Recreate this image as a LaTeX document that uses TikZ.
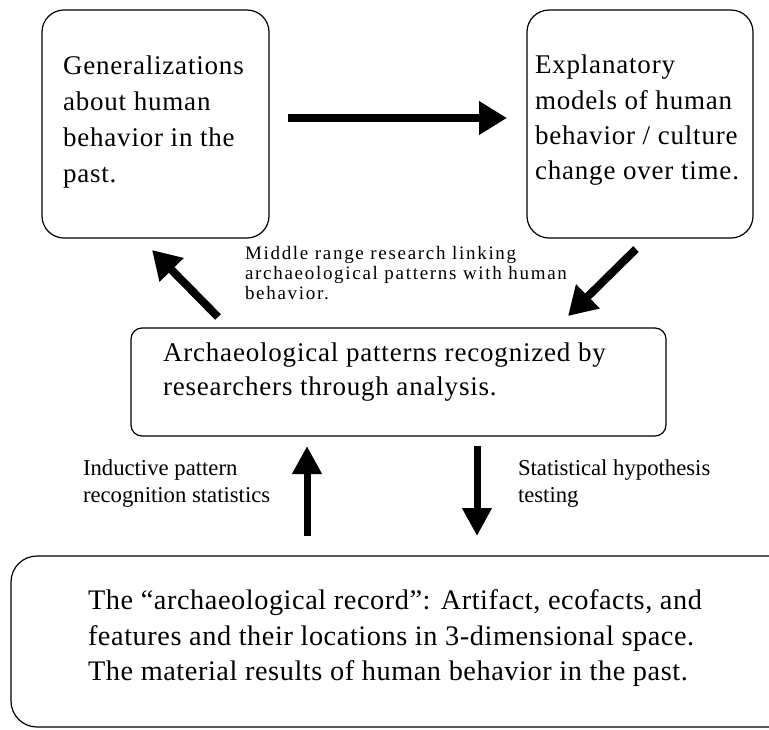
\documentclass[tikz,border=0pt]{standalone}
\usepackage{fontspec}
\setmainfont{Liberation Serif}
\newfontfamily\bigfont[LetterSpace=3]{Liberation Serif}
\newfontfamily\botfont[LetterSpace=2]{Liberation Serif}
\newfontfamily\midlabfont[LetterSpace=9]{Liberation Serif}
\newfontfamily\labfont{Liberation Serif}
\usetikzlibrary{arrows.meta}
\begin{document}
\begin{tikzpicture}[x=1pt,y=-1pt,
  box/.style={draw=black, line width=1.2pt, rounded corners=#1, inner sep=0pt, minimum width=0pt},
  line/.style={anchor=base west, inner sep=0pt, outer sep=0pt},
  bigtxt/.style={line, font=\bigfont\fontsize{27}{32}\selectfont},
  bottxt/.style={line, font=\botfont\fontsize{28.3}{34}\selectfont},
  labtxt/.style={line, font=\labfont\fontsize{22.7}{26}\selectfont},
  mlabtxt/.style={line, font=\midlabfont\fontsize{19}{20}\selectfont},
  arr/.style={line width=8pt, -{Triangle[length=28pt,width=32pt]}},
  varr/.style={line width=7pt, -{Triangle[length=28pt,width=28pt]}}
]
\useasboundingbox (0,0) rectangle (769,729);
\fill[white] (0,0) rectangle (769,729);
\clip (0,0) rectangle (769,729);

% boxes
\node[box=22pt, minimum width=227pt, minimum height=228pt] (gen) at (155.5,124) {};
\node[box=22pt, minimum width=226pt, minimum height=228pt] (expl) at (640,124) {};
\node[box=11pt, minimum width=535pt, minimum height=108pt] (pat) at (398.5,382) {};
\node[box=26pt, minimum width=790pt, minimum height=171pt] (rec) at (406,641.5) {};

% box texts
\node[bigtxt] (g1) at (63,74) {Generalizations};
\node[bigtxt] (g2) at (63,110) {about human};
\node[bigtxt] (g3) at (63,146) {behavior in the};
\node[bigtxt] (g4) at (63,182) {past.};

\node[bigtxt] (e1) at (535,73) {Explanatory};
\node[bigtxt] (e2) at (535,109) {models of human};
\node[bigtxt] (e3) at (535,144) {behavior / culture};
\node[bigtxt] (e4) at (535,179) {change over time.};

\node[bigtxt] (p1) at (163,361) {Archaeological patterns recognized by};
\node[bigtxt] (p2) at (163,395) {researchers through analysis.};

\node[bottxt] (r1) at (88,609) {The \char"201C archaeological record\char"201D: Artifact, ecofacts, and};
\node[bottxt] (r2) at (88,645) {features and their locations in 3-dimensional space.};
\node[bottxt] (r3) at (88,680) {The material results of human behavior in the past.};

% labels
\node[mlabtxt] (m1) at (245,259) {Middle range research linking};
\node[mlabtxt] (m2) at (245,279) {archaeological patterns with human};
\node[mlabtxt] (m3) at (245,299) {behavior.};

\node[labtxt] (i1) at (83,475) {Inductive pattern};
\node[labtxt] (i2) at (83,502) {recognition statistics};

\node[labtxt] (s1) at (518,475) {Statistical hypothesis};
\node[labtxt] (s2) at (518,502) {testing};

% arrow end points
\coordinate (h1) at (288,118);
\coordinate (h2) at (507,118);
\coordinate (ul1) at (218,317);
\coordinate (ul2) at (152,250);
\coordinate (dl1) at (636,249);
\coordinate (dl2) at (568,316);
\coordinate (up1) at (307,536);
\coordinate (up2) at (307,446);
\coordinate (dn1) at (477,446);
\coordinate (dn2) at (477,536);

\draw[arr] (h1) -- (h2);
\draw[arr] (ul1) -- (ul2);
\draw[arr] (dl1) -- (dl2);
\draw[varr] (up1) -- (up2);
\draw[varr] (dn1) -- (dn2);
\end{tikzpicture}
\end{document}
